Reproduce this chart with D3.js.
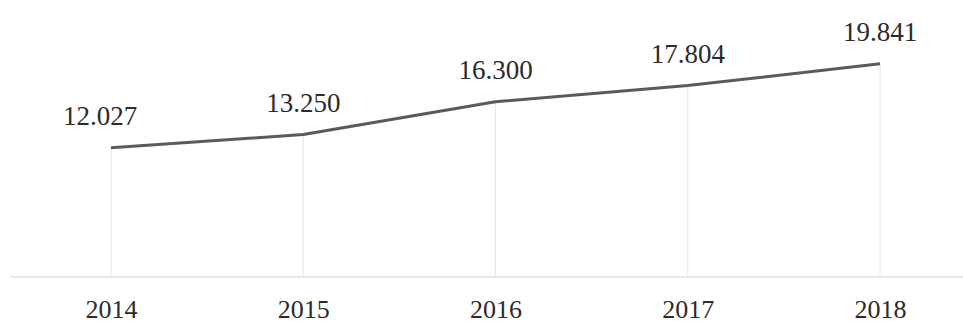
<!DOCTYPE html>
<html>
<head>
<meta charset="utf-8">
<script src="https://cdn.jsdelivr.net/npm/d3@7"></script>
<style>
  html, body { margin: 0; padding: 0; background: #ffffff; }
  svg { display: block; }
</style>
</head>
<body>
<div id="chart"></div>
<script>
const years = ["2014", "2015", "2016", "2017", "2018"];
const values = [12.027, 13.250, 16.300, 17.804, 19.841];
const valueLabels = ["12.027", "13.250", "16.300", "17.804", "19.841"];
const yDomain = [0, 20];

const W = 963, H = 325;
const svg = d3.select("#chart").append("svg")
  .attr("width", W).attr("height", H);

const x = d3.scalePoint().domain(years).range([111, 880]);
const y = d3.scaleLinear().domain(yDomain).range([277, 62]);

const data = years.map((yr, i) => ({ year: yr, value: values[i], label: valueLabels[i] }));

// baseline
svg.append("line")
  .attr("x1", 10).attr("x2", 963)
  .attr("y1", y(0)).attr("y2", y(0))
  .attr("stroke", "#e2e2e2").attr("stroke-width", 1.5);

// vertical drop lines
svg.append("g").selectAll("line").data(data).join("line")
  .attr("x1", d => x(d.year)).attr("x2", d => x(d.year))
  .attr("y1", d => y(d.value)).attr("y2", y(0))
  .attr("stroke", "#e6e6e6").attr("stroke-width", 1);

// line
const line = d3.line().x(d => x(d.year)).y(d => y(d.value));
svg.append("path").datum(data)
  .attr("d", line)
  .attr("fill", "none")
  .attr("stroke", "#5a5a5a")
  .attr("stroke-width", 3)
  .attr("stroke-linejoin", "round");

// value labels
svg.append("g").selectAll("text").data(data).join("text")
  .attr("x", (d, i) => x(d.year) + (i === 0 ? -11 : 0))
  .attr("y", d => y(d.value) - 23)
  .attr("text-anchor", "middle")
  .attr("font-family", "'Liberation Serif', 'Times New Roman', serif")
  .attr("font-size", 27)
  .attr("fill", "#2b2b2b")
  .text(d => d.label);

// x axis labels
const xAxis = d3.axisBottom(x).tickSize(0).tickPadding(0);
const gx = svg.append("g").attr("transform", `translate(0, 300)`).call(xAxis);
gx.select(".domain").remove();
gx.selectAll("text")
  .attr("dy", null)
  .attr("y", 18)
  .attr("font-family", "'Liberation Serif', 'Times New Roman', serif")
  .attr("font-size", 26)
  .attr("fill", "#2b2b2b");
</script>
</body>
</html>
